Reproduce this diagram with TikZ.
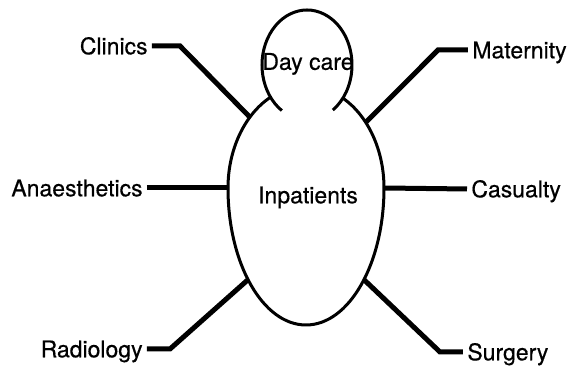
\documentclass[tikz,border=0pt]{standalone}
\usepackage{fontspec}
\setmainfont{TeX Gyre Heros}[FakeBold=0.5]
\usetikzlibrary{calc}
\tikzset{
	ward/.style={font=\fontsize{11.5}{13}\selectfont, inner ysep=0pt, inner xsep=2pt, text height=8.3pt, text depth=0pt},
	link/.style={line width=2.5pt, line join=miter},
	wall/.style={line width=1.5pt}
}

\begin{document}
\begin{tikzpicture}[x=0.5pt, y=-0.5pt]
	\useasboundingbox (0,0) rectangle (575,367);

	% the two blocks
	\coordinate (mid) at (306,188);
	\coordinate (top) at (307,65);
	\draw[wall] ($(mid)+(-61.7:78 and 102)$) arc[start angle=-61.7, end angle=0, x radius=78, y radius=102]
		arc[start angle=0, end angle=180, x radius=78, y radius=137]
		arc[start angle=180, end angle=242.5, x radius=78, y radius=102];
	\draw[wall] ($(top)+(124:45 and 55)$) arc[start angle=124, end angle=415, x radius=45, y radius=55];

	\node[ward] (inp) at (308,195) {Inpatients};
	\node[ward] (day) at (308,61.5) {Day care};

	% where the links meet the wall
	\coordinate (cli-j) at ($(mid)+(-136:78 and 102)$);
	\coordinate (ana-j) at ($(mid)+(180:78 and 102)$);
	\coordinate (rad-j) at ($(mid)+(138:78 and 137)$);
	\coordinate (mat-j) at ($(mid)+(-40:78 and 102)$);
	\coordinate (cas-j) at ($(mid)+(0:78 and 102)$);
	\coordinate (sur-j) at ($(mid)+(42:78 and 137)$);

	\node[ward, anchor=east] (cli) at (152,46) {Clinics};
	\node[ward, anchor=east] (ana) at (147,188) {Anaesthetics};
	\node[ward, anchor=east] (rad) at (147,349) {Radiology};
	\node[ward, anchor=west] (mat) at (468,50) {Maternity};
	\node[ward, anchor=west] (cas) at (467,189) {Casualty};
	\node[ward, anchor=west] (sur) at (463,352) {Surgery};

	\draw[link] (cli.east) -- ++(28,0) -- (cli-j);
	\draw[link] (ana.east) -- (ana-j);
	\draw[link] (rad.east) -- ++(23,0) -- (rad-j);
	\draw[link] (mat.west) -- ++(-30,0) -- (mat-j);
	\draw[link] (cas.west) -- (cas-j);
	\draw[link] (sur.west) -- ++(-23,0) -- (sur-j);
\end{tikzpicture}
\end{document}
